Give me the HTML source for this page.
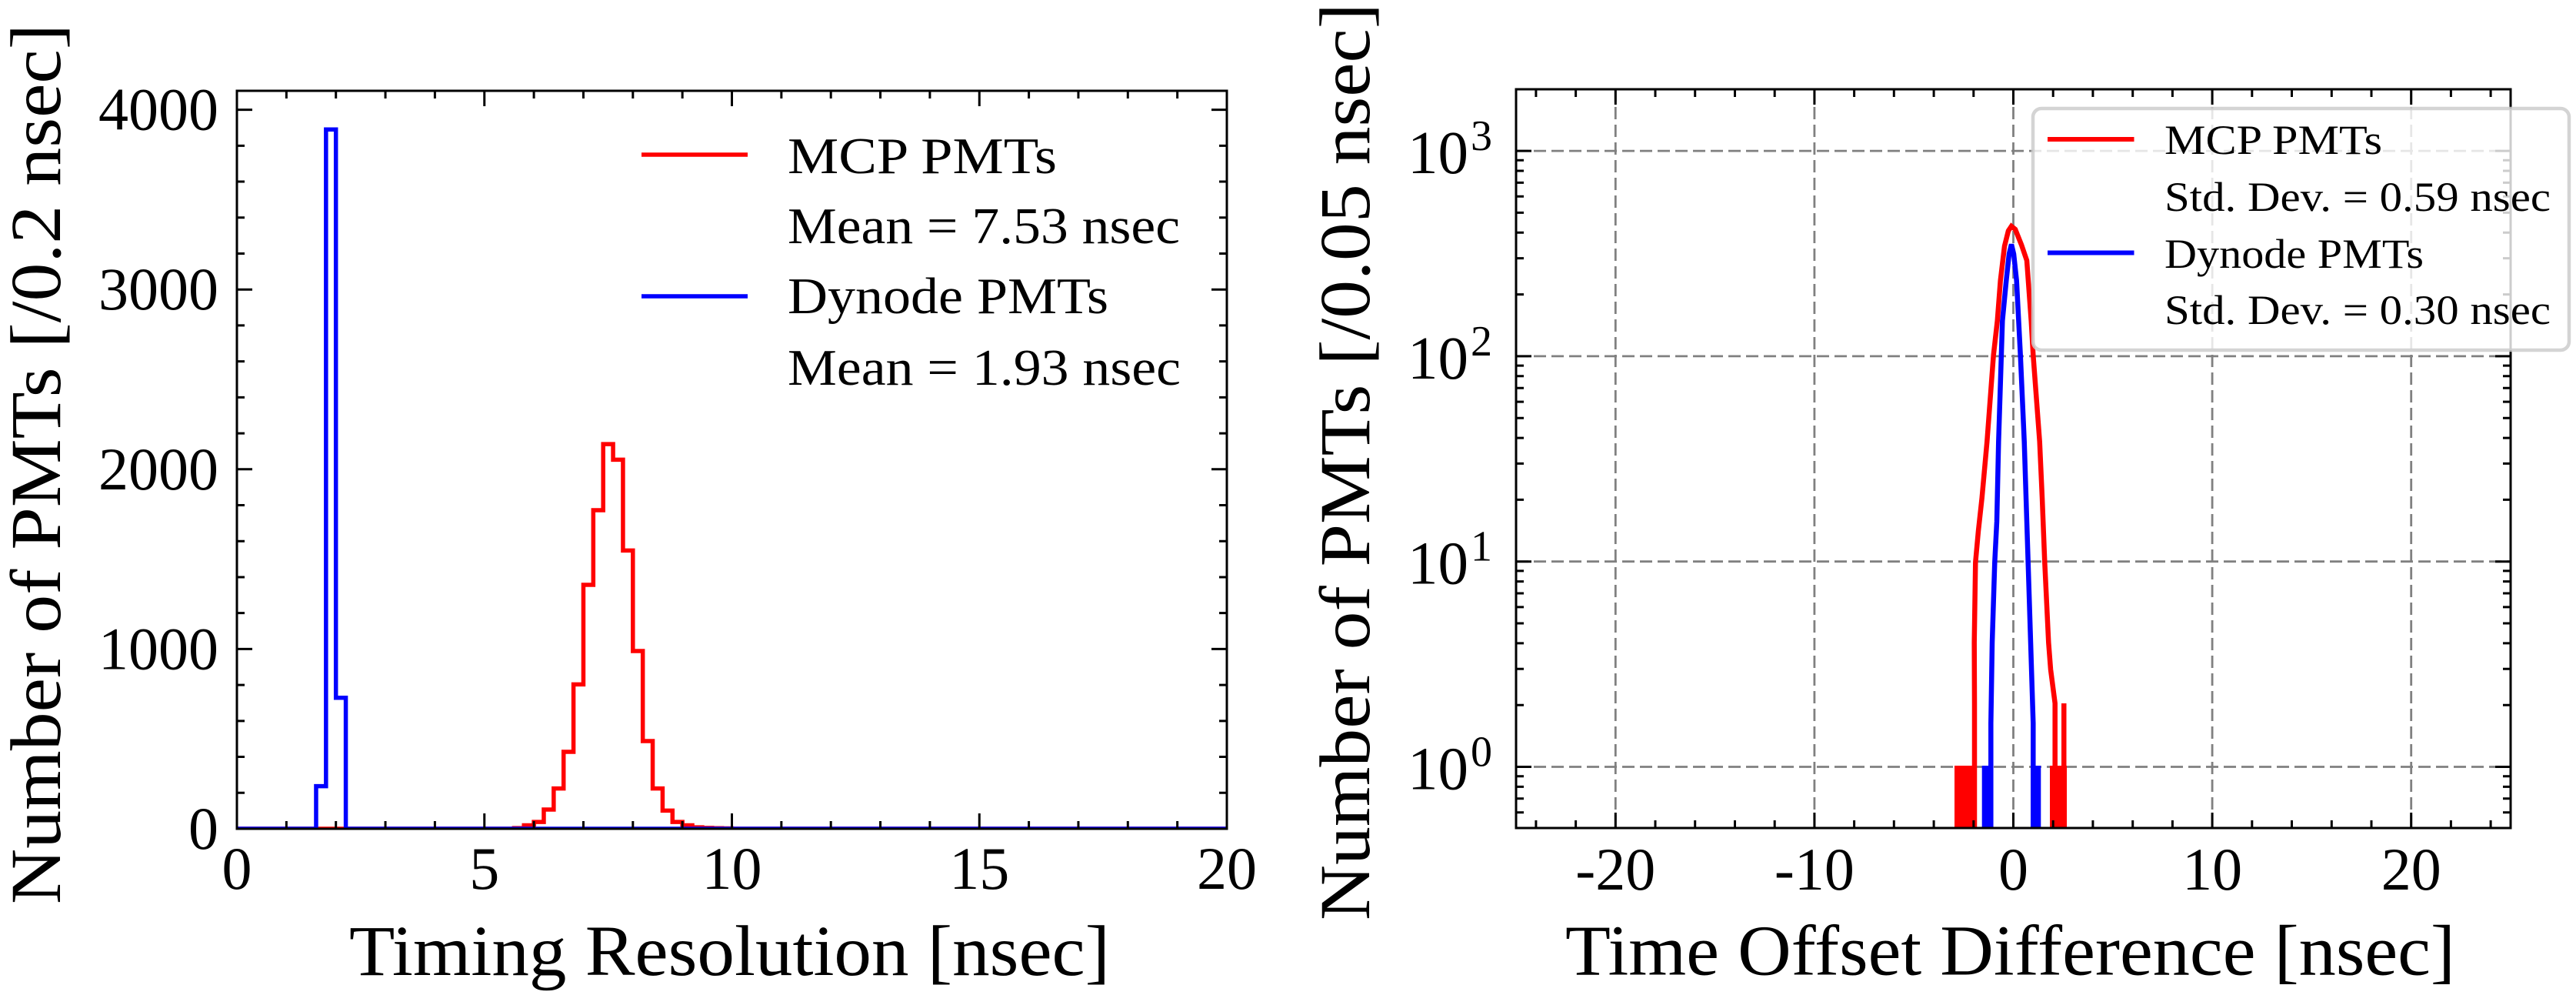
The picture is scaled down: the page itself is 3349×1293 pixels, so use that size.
<!DOCTYPE html>
<html>
<head>
<meta charset="utf-8">
<style>
html,body{margin:0;padding:0;background:#ffffff;}
svg{display:block;}
</style>
</head>
<body>
<svg xmlns="http://www.w3.org/2000/svg" width="3349" height="1293" viewBox="0 0 3349 1293" font-family="'Liberation Serif', 'DejaVu Serif', serif">
<defs>
  <clipPath id="clipL"><rect x="308" y="118" width="1287" height="959"/></clipPath>
  <clipPath id="clipR"><rect x="1971" y="116" width="1293" height="960"/></clipPath>
</defs>
<rect x="0" y="0" width="3349" height="1293" fill="#ffffff"/>

<!-- ================= LEFT PLOT ================= -->
<g clip-path="url(#clipL)" fill="none" stroke-width="5.5" stroke-linejoin="miter">
  <path stroke="#ff0000" d="M308,1077 H668.36 V1076.07 H681.23 V1072.56 H694.1 V1068.12 H706.97 V1052 H719.84 V1024.67 H732.71 V977.02 H745.58 V889.42 H758.45 V760 H771.32 V663.06 H784.19 V577.1 H797.06 V597.42 H809.93 V715.39 H822.8 V845.97 H835.67 V963 H848.54 V1024.67 H861.41 V1053.41 H874.28 V1068.12 H887.15 V1072.56 H900.02 V1075.13 H912.89 V1075.83 H925.76 V1076.3 H938.63 V1076.53 H951.5 V1077 H1595"/>
  <path stroke="#0000ff" d="M308,1077 H410.96 V1021.6 H423.83 V168.3 H436.7 V906.7 H449.57 V1077 H1595"/>
</g>

<!-- spines -->
<rect x="308" y="118" width="1287" height="959" fill="none" stroke="#000" stroke-width="3"/>
<!-- ticks -->
<path stroke="#000" stroke-width="3" fill="none" d="
M308,1077v-20 M629.75,1077v-20 M951.5,1077v-20 M1273.25,1077v-20 M1595,1077v-20
M308,118v20 M629.75,118v20 M951.5,118v20 M1273.25,118v20 M1595,118v20
M372.35,1077v-10 M436.7,1077v-10 M501.05,1077v-10 M565.4,1077v-10 M694.1,1077v-10 M758.45,1077v-10 M822.8,1077v-10 M887.15,1077v-10 M1015.85,1077v-10 M1080.2,1077v-10 M1144.55,1077v-10 M1208.9,1077v-10 M1337.6,1077v-10 M1401.95,1077v-10 M1466.3,1077v-10 M1530.65,1077v-10
M372.35,118v10 M436.7,118v10 M501.05,118v10 M565.4,118v10 M694.1,118v10 M758.45,118v10 M822.8,118v10 M887.15,118v10 M1015.85,118v10 M1080.2,118v10 M1144.55,118v10 M1208.9,118v10 M1337.6,118v10 M1401.95,118v10 M1466.3,118v10 M1530.65,118v10
M308,1077h20 M308,843.4h20 M308,609.8h20 M308,376.2h20 M308,142.6h20
M1595,1077h-20 M1595,843.4h-20 M1595,609.8h-20 M1595,376.2h-20 M1595,142.6h-20
M308,1030.28h10 M308,983.56h10 M308,936.84h10 M308,890.12h10 M308,796.68h10 M308,749.96h10 M308,703.24h10 M308,656.52h10 M308,563.08h10 M308,516.36h10 M308,469.64h10 M308,422.92h10 M308,329.48h10 M308,282.76h10 M308,236.04h10 M308,189.32h10
M1595,1030.28h-10 M1595,983.56h-10 M1595,936.84h-10 M1595,890.12h-10 M1595,796.68h-10 M1595,749.96h-10 M1595,703.24h-10 M1595,656.52h-10 M1595,563.08h-10 M1595,516.36h-10 M1595,469.64h-10 M1595,422.92h-10 M1595,329.48h-10 M1595,282.76h-10 M1595,236.04h-10 M1595,189.32h-10
"/>

<!-- left tick labels -->
<g font-size="78" fill="#000">
  <text x="284" y="1103" text-anchor="end">0</text>
  <text x="284" y="869.4" text-anchor="end">1000</text>
  <text x="284" y="635.8" text-anchor="end">2000</text>
  <text x="284" y="402.2" text-anchor="end">3000</text>
  <text x="284" y="168.6" text-anchor="end">4000</text>
  <text x="308" y="1155" text-anchor="middle">0</text>
  <text x="629.75" y="1155" text-anchor="middle">5</text>
  <text x="951.5" y="1155" text-anchor="middle">10</text>
  <text x="1273.25" y="1155" text-anchor="middle">15</text>
  <text x="1595" y="1155" text-anchor="middle">20</text>
</g>

<!-- left axis labels -->
<text x="948.5" y="1267" font-size="93" text-anchor="middle" textLength="989" lengthAdjust="spacingAndGlyphs">Timing Resolution [nsec]</text>
<text transform="translate(78,603) rotate(-90)" font-size="93" text-anchor="middle" textLength="1144" lengthAdjust="spacingAndGlyphs">Number of PMTs [/0.2 nsec]</text>

<!-- left legend -->
<line x1="834" y1="201" x2="972" y2="201" stroke="#ff0000" stroke-width="5.5"/>
<line x1="834" y1="385" x2="972" y2="385" stroke="#0000ff" stroke-width="5.5"/>
<g font-size="67" fill="#000">
  <text x="1024" y="225" textLength="350" lengthAdjust="spacingAndGlyphs">MCP PMTs</text>
  <text x="1024" y="316" textLength="510" lengthAdjust="spacingAndGlyphs">Mean = 7.53 nsec</text>
  <text x="1024" y="407" textLength="417" lengthAdjust="spacingAndGlyphs">Dynode PMTs</text>
  <text x="1024" y="500" textLength="511" lengthAdjust="spacingAndGlyphs">Mean = 1.93 nsec</text>
</g>

<!-- ================= RIGHT PLOT ================= -->
<!-- grid -->
<path stroke="#808080" stroke-width="2.8" stroke-dasharray="16 7" fill="none" d="
M2100.3,116V1076 M2358.9,116V1076 M2617.5,116V1076 M2876.1,116V1076 M3134.7,116V1076
M1971,996.5H3264 M1971,729.7H3264 M1971,462.9H3264 M1971,196.1H3264"/>

<!-- data -->
<g clip-path="url(#clipR)">
  <rect x="2541" y="995" width="29" height="81" fill="#ff0000"/>
  <rect x="2665" y="995" width="22" height="81" fill="#ff0000"/>
  <rect x="2680" y="914" width="6.5" height="82" fill="#ff0000"/>
  <path fill="none" stroke="#ff0000" stroke-width="6.5" stroke-linejoin="miter" d="M2567,1076 L2567,914 L2566.7,835 L2568.3,730.7 L2572,690 L2576.7,647 L2583.3,573.8 L2591.7,461.4 L2596.7,417 L2600.7,364.6 L2606,320 L2611,300 L2615,294 L2620,298 L2628,318 L2635,338.5 L2640.7,417 L2643.3,461.4 L2651.7,573.8 L2655,647 L2658.3,730.7 L2663.3,835 L2666,870 L2671.7,914 L2671.7,1076"/>
  <rect x="2576.7" y="995" width="13.3" height="81" fill="#0000ff"/>
  <rect x="2640" y="995" width="13.3" height="81" fill="#0000ff"/>
  <path fill="none" stroke="#0000ff" stroke-width="6.5" stroke-linejoin="miter" d="M2588.3,1076 L2588.3,940 L2590,835 L2593.3,730.7 L2596,678 L2598.3,573.8 L2603.3,417 L2608.3,364.6 L2612,330 L2615,317.5 L2618,330 L2621.7,364.6 L2626.7,461.4 L2631.7,573.8 L2636.7,730.7 L2640,835 L2643.3,940 L2643.3,1076"/>
</g>

<!-- spines -->
<rect x="1971" y="116" width="1293" height="960" fill="none" stroke="#000" stroke-width="3"/>
<!-- ticks -->
<path stroke="#000" stroke-width="3" fill="none" d="
M2100.3,1076v-20 M2358.9,1076v-20 M2617.5,1076v-20 M2876.1,1076v-20 M3134.7,1076v-20
M2100.3,116v20 M2358.9,116v20 M2617.5,116v20 M2876.1,116v20 M3134.7,116v20
M1996.9,1076v-10 M2048.6,1076v-10 M2152,1076v-10 M2203.7,1076v-10 M2255.5,1076v-10 M2307.2,1076v-10 M2410.6,1076v-10 M2462.3,1076v-10 M2514.1,1076v-10 M2565.8,1076v-10 M2669.2,1076v-10 M2720.9,1076v-10 M2772.7,1076v-10 M2824.4,1076v-10 M2927.8,1076v-10 M2979.5,1076v-10 M3031.3,1076v-10 M3083,1076v-10 M3186.4,1076v-10 M3238.1,1076v-10
M1996.9,116v10 M2048.6,116v10 M2152,116v10 M2203.7,116v10 M2255.5,116v10 M2307.2,116v10 M2410.6,116v10 M2462.3,116v10 M2514.1,116v10 M2565.8,116v10 M2669.2,116v10 M2720.9,116v10 M2772.7,116v10 M2824.4,116v10 M2927.8,116v10 M2979.5,116v10 M3031.3,116v10 M3083,116v10 M3186.4,116v10 M3238.1,116v10
M1971,996.5h20 M1971,729.7h20 M1971,462.9h20 M1971,196.1h20
M3264,996.5h-20 M3264,729.7h-20 M3264,462.9h-20 M3264,196.1h-20
M1971,1055.7h10 M1971,1037.8h10 M1971,1022.4h10 M1971,1008.7h10 M1971,916.2h10 M1971,869.2h10 M1971,835.9h10 M1971,810h10 M1971,788.9h10 M1971,771h10 M1971,755.6h10 M1971,741.9h10 M1971,649.4h10 M1971,602.4h10 M1971,569.1h10 M1971,543.2h10 M1971,522.1h10 M1971,504.2h10 M1971,488.8h10 M1971,475.1h10 M1971,382.6h10 M1971,335.6h10 M1971,302.3h10 M1971,276.4h10 M1971,255.3h10 M1971,237.4h10 M1971,222h10 M1971,208.3h10
M3264,1055.7h-10 M3264,1037.8h-10 M3264,1022.4h-10 M3264,1008.7h-10 M3264,916.2h-10 M3264,869.2h-10 M3264,835.9h-10 M3264,810h-10 M3264,788.9h-10 M3264,771h-10 M3264,755.6h-10 M3264,741.9h-10 M3264,649.4h-10 M3264,602.4h-10 M3264,569.1h-10 M3264,543.2h-10 M3264,522.1h-10 M3264,504.2h-10 M3264,488.8h-10 M3264,475.1h-10 M3264,382.6h-10 M3264,335.6h-10 M3264,302.3h-10 M3264,276.4h-10 M3264,255.3h-10 M3264,237.4h-10 M3264,222h-10 M3264,208.3h-10
"/>

<!-- right tick labels -->
<g fill="#000">
  <g font-size="79">
    <text x="1909" y="1025.5" text-anchor="end">10</text>
    <text x="1909" y="758.7" text-anchor="end">10</text>
    <text x="1909" y="491.9" text-anchor="end">10</text>
    <text x="1909" y="225.1" text-anchor="end">10</text>
  </g>
  <g font-size="56">
    <text x="1912" y="995.5">0</text>
    <text x="1912" y="728.7">1</text>
    <text x="1912" y="461.9">2</text>
    <text x="1912" y="195.1">3</text>
  </g>
  <g font-size="78" text-anchor="middle">
    <text x="2100.3" y="1156">-20</text>
    <text x="2358.9" y="1156">-10</text>
    <text x="2617.5" y="1156">0</text>
    <text x="2876.1" y="1156">10</text>
    <text x="3134.7" y="1156">20</text>
  </g>
</g>

<!-- right axis labels -->
<text x="2613.5" y="1266.5" font-size="93" text-anchor="middle" textLength="1157" lengthAdjust="spacingAndGlyphs">Time Offset Difference [nsec]</text>
<text transform="translate(1780,600) rotate(-90)" font-size="93" text-anchor="middle" textLength="1192" lengthAdjust="spacingAndGlyphs">Number of PMTs [/0.05 nsec]</text>

<!-- right legend -->
<rect x="2643" y="141" width="697" height="314" rx="11" ry="11" fill="#ffffff" fill-opacity="0.8" stroke="#cccccc" stroke-opacity="0.85" stroke-width="4.5"/>
<line x1="2662" y1="181" x2="2774.5" y2="181" stroke="#ff0000" stroke-width="6"/>
<line x1="2662" y1="328.5" x2="2774.5" y2="328.5" stroke="#0000ff" stroke-width="6"/>
<g font-size="54" fill="#000">
  <text x="2814" y="200" textLength="283" lengthAdjust="spacingAndGlyphs">MCP PMTs</text>
  <text x="2814" y="274" textLength="502" lengthAdjust="spacingAndGlyphs">Std. Dev. = 0.59 nsec</text>
  <text x="2814" y="348" textLength="337" lengthAdjust="spacingAndGlyphs">Dynode PMTs</text>
  <text x="2814" y="421" textLength="502" lengthAdjust="spacingAndGlyphs">Std. Dev. = 0.30 nsec</text>
</g>
</svg>
</body>
</html>
